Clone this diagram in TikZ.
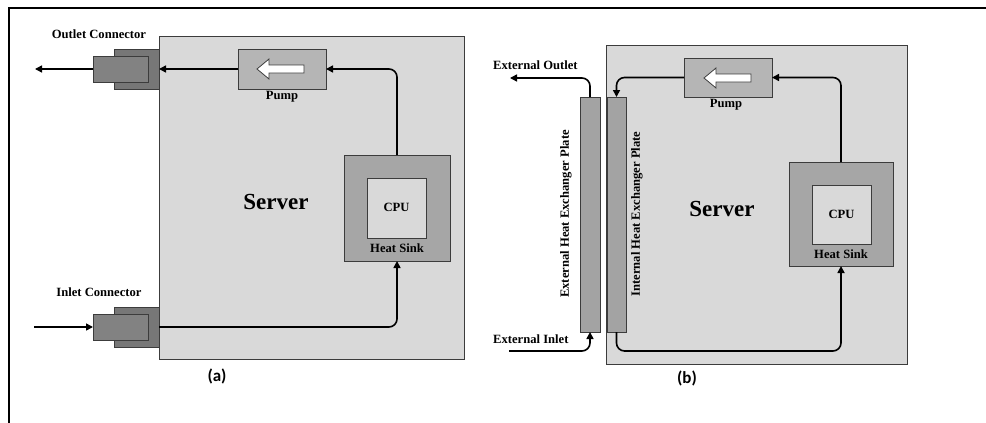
\documentclass[tikz,border=0pt]{standalone}
\usepackage{fontspec}
\setmainfont{Liberation Serif}
\newfontfamily\capfont{Carlito}
\usetikzlibrary{arrows.meta}
\definecolor{srvfill}{HTML}{D9D9D9}
\definecolor{pumpfill}{HTML}{B5B5B5}
\definecolor{hsfill}{HTML}{A6A6A6}
\definecolor{conout}{HTML}{777777}
\definecolor{conin}{HTML}{828282}
\definecolor{platefill}{HTML}{A3A3A3}
\definecolor{bord}{HTML}{3C3C3C}
\tikzset{
  x=1pt, y=-1pt,
  rbox/.style={draw=bord, line width=0.9pt, inner sep=0pt, outer sep=0pt, rectangle},
  lbl/.style={font=\bfseries\fontsize{12.6}{14}\selectfont, inner sep=0pt},
  srvlbl/.style={font=\bfseries\fontsize{23}{26}\selectfont, inner sep=0pt},
  caplbl/.style={font=\capfont\bfseries\fontsize{17}{19}\selectfont, inner sep=0pt},
  flow/.style={line width=1.6pt, -{Triangle[length=7pt,width=7pt]}},
  warrow/.style={draw=bord, line width=0.8pt, fill=white},
}
\begin{document}
\begin{tikzpicture}
\useasboundingbox (0,0) rectangle (986,423);
\fill[white] (0,0) rectangle (986,423);
\draw[line width=2pt] (9,423) -- (9,7.5) -- (986,7.5);

% ---------------- (a) ----------------
\node[rbox, fill=conout, minimum width=45pt, minimum height=40pt] (ocoA) at (136.5,69) {};
\node[rbox, fill=conout, minimum width=45pt, minimum height=40pt] (icoA) at (136.5,327) {};
\node[rbox, fill=srvfill, minimum width=305pt, minimum height=323pt] (serverA) at (311.5,197.5) {};
\node[rbox, fill=conin, minimum width=55pt, minimum height=26pt] (ociA) at (120.5,69) {};
\node[rbox, fill=conin, minimum width=55pt, minimum height=26pt] (iciA) at (120.5,327) {};
\node[rbox, fill=pumpfill, minimum width=88pt, minimum height=40pt] (pumpA) at (282,69) {};
\draw[warrow] (257,69) -- (269,59) -- (269,65) -- (304,65) -- (304,73) -- (269,73) -- (269,79) -- cycle;
\node[rbox, fill=hsfill, minimum width=106pt, minimum height=106pt] (hsA) at (397,208) {};
\node[rbox, fill=srvfill, minimum width=59pt, minimum height=60pt] (cpuA) at (396.5,208) {};
\node[lbl] (cpuAt) at (396.5,207) {CPU};
\node[lbl] (hsAt) at (397,248) {Heat Sink};
\node[lbl] (pumpAt) at (282,97) {Pump};
\node[srvlbl] (srvAt) at (276,202) {Server};
\node[lbl] (oclbl) at (99,34) {Outlet Connector};
\node[lbl] (iclbl) at (99,292) {Inlet Connector};
\node[caplbl] (capA) at (217,376) {(a)};

\coordinate (outA) at (35,69);
\coordinate (inA) at (34,327);
\draw[flow] (ociA.west) -- (outA);
\draw[flow] (pumpA.west) -- (serverA.west |- pumpA.west);
\draw[flow, rounded corners=8pt] (hsA.north) |- (pumpA.east);
\draw[flow] (inA) -- (iciA.west);
\draw[flow, rounded corners=8pt] (serverA.west |- iciA.west) -| (hsA.south);

% ---------------- (b) ----------------
\node[rbox, fill=srvfill, minimum width=301pt, minimum height=319pt] (serverB) at (756.5,204.5) {};
\node[rbox, fill=pumpfill, minimum width=88pt, minimum height=39pt] (pumpB) at (728,77.5) {};
\draw[warrow] (704,78) -- (716,68) -- (716,74) -- (751,74) -- (751,82) -- (716,82) -- (716,88) -- cycle;
\node[rbox, fill=platefill, minimum width=19pt, minimum height=235pt] (intP) at (616.5,214.5) {};
\node[rbox, fill=platefill, minimum width=20pt, minimum height=235pt] (extP) at (590,214.5) {};
\node[rbox, fill=hsfill, minimum width=104pt, minimum height=104pt] (hsB) at (841,214) {};
\node[rbox, fill=srvfill, minimum width=59pt, minimum height=59pt] (cpuB) at (841.5,214.5) {};
\node[lbl] (cpuBt) at (841.5,214) {CPU};
\node[lbl] (hsBt) at (841,254) {Heat Sink};
\node[lbl] (pumpBt) at (726,105) {Pump};
\node[srvlbl] (srvBt) at (722,209) {Server};
\node[lbl, rotate=90] (extPt) at (566,214) {External Heat Exchanger Plate};
\node[lbl, rotate=90] (intPt) at (637,214) {Internal Heat Exchanger Plate};
\node[lbl, anchor=west] (eolbl) at (493,65) {External Outlet};
\node[lbl, anchor=west] (eilbl) at (493,339) {External Inlet};
\node[caplbl] (capB) at (687,378) {(b)};

\coordinate (extOut) at (510,78);
\coordinate (extIn) at (509,351);
\coordinate (botB) at (728,351);
\draw[flow, rounded corners=8pt] (pumpB.west) -| (intP.north);
\draw[flow, rounded corners=8pt] (hsB.north) |- (pumpB.east);
\draw[flow, rounded corners=8pt] (intP.south) |- (botB) -| (hsB.south);
\draw[flow, rounded corners=8pt] (extP.north) |- (extOut);
\draw[flow, rounded corners=8pt] (extIn) -| (extP.south);
\end{tikzpicture}
\end{document}
